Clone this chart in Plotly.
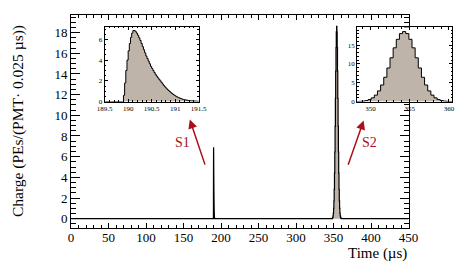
import numpy as np
import plotly.graph_objects as go

# ---------------- data ----------------
# S1 pulse: charge per 0.025 us bin, first bin left edge 189.875 us
s1_start = 189.875
s1_width = 0.025
s1_values = [0.0, 0.6, 1.8, 3.0, 4.0, 4.9, 5.6, 6.2, 6.6, 6.85, 6.85, 6.75, 6.6, 6.4,
             6.15, 5.9, 5.6, 5.3, 5.0, 4.7, 4.4, 4.15, 3.9, 3.65, 3.4, 3.2, 3.0, 2.8,
             2.6, 2.45, 2.3, 2.15, 2.0, 1.85, 1.7, 1.55, 1.42, 1.3, 1.18, 1.07, 0.97,
             0.87, 0.78, 0.69, 0.61, 0.54, 0.47, 0.41, 0.36, 0.31, 0.27, 0.23, 0.2,
             0.17, 0.15, 0.13, 0.11, 0.09, 0.08, 0.07, 0.06, 0.05, 0.05, 0.04, 0.04]

# S2 pulse: first bin left edge 348.5 us, bin width 0.4 us
s2_start = 348.5
s2_width = 0.4
s2_values = [0.06, 0.13, 0.27, 0.53, 0.99, 1.72, 2.84, 4.41, 6.46, 8.93, 11.63, 14.28,
             16.54, 18.06, 18.6, 18.06, 16.54, 14.28, 11.63, 8.93, 6.46, 4.41, 2.84,
             1.72, 0.99, 0.53, 0.27, 0.13, 0.06, 0.03]

x_ticks = [0, 50, 100, 150, 200, 250, 300, 350, 400, 450]
y_ticks = [0, 2, 4, 6, 8, 10, 12, 14, 16, 18]
s1_xticks = [189.5, 190, 190.5, 191, 191.5]
s1_yticks = [0, 2, 4, 6]
s2_xticks = [350, 355, 360]
s2_yticks = [0, 5, 10, 15]

# ---------------- build step series ----------------
s1_edges = [s1_start + i * s1_width for i in range(len(s1_values))]
s1_end = s1_start + len(s1_values) * s1_width
s2_edges = [s2_start + i * s2_width for i in range(len(s2_values))]
s2_end = s2_start + len(s2_values) * s2_width

main_x = [0] + s1_edges + [s1_end] + s2_edges + [s2_end, 450]
main_y = [0] + s1_values + [0] + s2_values + [0, 0]

ins1_x = [189.5] + s1_edges + [s1_end, 191.5]
ins1_y = [0] + s1_values + [0, 0]
ins2_x = [348.3] + s2_edges + [s2_end]
ins2_y = [0] + s2_values + [0]

FILL = "#bfb4a9"
SERIF = "Liberation Serif"
RED = "#a8101c"

fig = go.Figure()
fig.add_trace(go.Scatter(x=main_x, y=main_y, mode="lines", line=dict(shape="hv", color="black", width=1.2),
                         fill="tozeroy", fillcolor=FILL, xaxis="x", yaxis="y", hoverinfo="skip"))
fig.add_trace(go.Scatter(x=ins1_x, y=ins1_y, mode="lines", line=dict(shape="hv", color="black", width=1),
                         fill="tozeroy", fillcolor=FILL, xaxis="x2", yaxis="y2", hoverinfo="skip"))
fig.add_trace(go.Scatter(x=ins2_x, y=ins2_y, mode="lines", line=dict(shape="hv", color="black", width=1),
                         fill="tozeroy", fillcolor=FILL, xaxis="x3", yaxis="y3", hoverinfo="skip"))

# page body has an 8px margin, so the figure is drawn 8px smaller and shifted
OFF = 8
W, H = 473 - OFF, 272 - OFF
L, T = 71 - OFF, 14 - OFF
B = H - (228 - OFF)
R = 12
PW = W - L - R
PH = H - T - B

def px(x):
    # reference pixel -> paper x
    return (x - OFF - L) / PW

def py(y):
    # reference pixel -> paper y
    return (H - B - (y - OFF)) / PH

main_ax = dict(showline=True, linecolor="black", linewidth=1, mirror="allticks", ticks="inside",
               showgrid=False, zeroline=False, tickcolor="black",
               tickfont=dict(family=SERIF, size=13, color="black"))

fig.update_layout(
    width=W, height=H, margin=dict(l=L, r=R, t=T, b=B),
    paper_bgcolor="white", plot_bgcolor="white", showlegend=False,
    xaxis=dict(**main_ax, domain=[0, px(412)], range=[0, 450], tickvals=x_ticks, ticklen=5,
               ticklabelstandoff=-3,
               minor=dict(ticks="inside", dtick=10, tick0=0, ticklen=3, tickcolor="black"), anchor="y"),
    yaxis=dict(**main_ax, domain=[0, 1], range=[-0.9, 19.7], tickvals=y_ticks, ticklen=9,
               minor=dict(ticks="inside", dtick=0.5, tick0=0, ticklen=5, tickcolor="black"), anchor="x"),
)

ins_ax = dict(showline=True, linecolor="black", linewidth=1, mirror="allticks", ticks="inside",
              showgrid=False, zeroline=False, tickcolor="black", ticklen=3,
              tickfont=dict(family=SERIF, size=7, color="black"))

fig.update_layout(
    xaxis2=dict(**ins_ax, domain=[px(105), px(200)], range=[189.5, 191.5], tickvals=s1_xticks,
                minor=dict(ticks="inside", dtick=0.1, tick0=189.5, ticklen=1.5, tickcolor="black"), anchor="y2"),
    yaxis2=dict(**ins_ax, domain=[py(101), py(26)], range=[0, 7.2], tickvals=s1_yticks,
                minor=dict(ticks="inside", dtick=0.5, tick0=0, ticklen=1.5, tickcolor="black"), anchor="x2"),
    xaxis3=dict(**ins_ax, domain=[px(360), px(456)], range=[348.3, 360.4], tickvals=s2_xticks,
                minor=dict(ticks="inside", dtick=1, tick0=350, ticklen=1.5, tickcolor="black"), anchor="y3"),
    yaxis3=dict(**ins_ax, domain=[py(101), py(26.5)], range=[0, 19.7], tickvals=s2_yticks,
                minor=dict(ticks="inside", dtick=1, tick0=0, ticklen=1.5, tickcolor="black"), anchor="x3"),
)

# axis titles as annotations
fig.add_annotation(text="Charge (PEs/(PMT· 0.025 µs))", xref="paper", yref="paper", x=px(17), y=0.5,
                   textangle=-90, showarrow=False, xanchor="center", yanchor="middle",
                   font=dict(family=SERIF, size=15.5, color="black"))
fig.add_annotation(text="Time (µs)", xref="paper", yref="paper", x=px(412), y=py(254),
                   showarrow=False, xanchor="right", yanchor="middle",
                   font=dict(family=SERIF, size=15, color="black"))

# arrows and labels (data coordinates of main axes)
fig.add_annotation(x=158.4, y=9.6, ax=15.7, ay=46.7, xref="x", yref="y", text="", showarrow=True,
                   arrowhead=2, arrowsize=1.2, arrowwidth=1.5, arrowcolor=RED)
fig.add_annotation(x=390.2, y=9.5, ax=-16, ay=45.7, xref="x", yref="y", text="", showarrow=True,
                   arrowhead=2, arrowsize=1.2, arrowwidth=1.5, arrowcolor=RED)
fig.add_annotation(x=149.1, y=7.37, xref="x", yref="y", text="S1", showarrow=False,
                   font=dict(family=SERIF, size=14, color=RED))
fig.add_annotation(x=398.5, y=7.37, xref="x", yref="y", text="S2", showarrow=False,
                   font=dict(family=SERIF, size=14, color=RED))

fig.write_html("out.html")
